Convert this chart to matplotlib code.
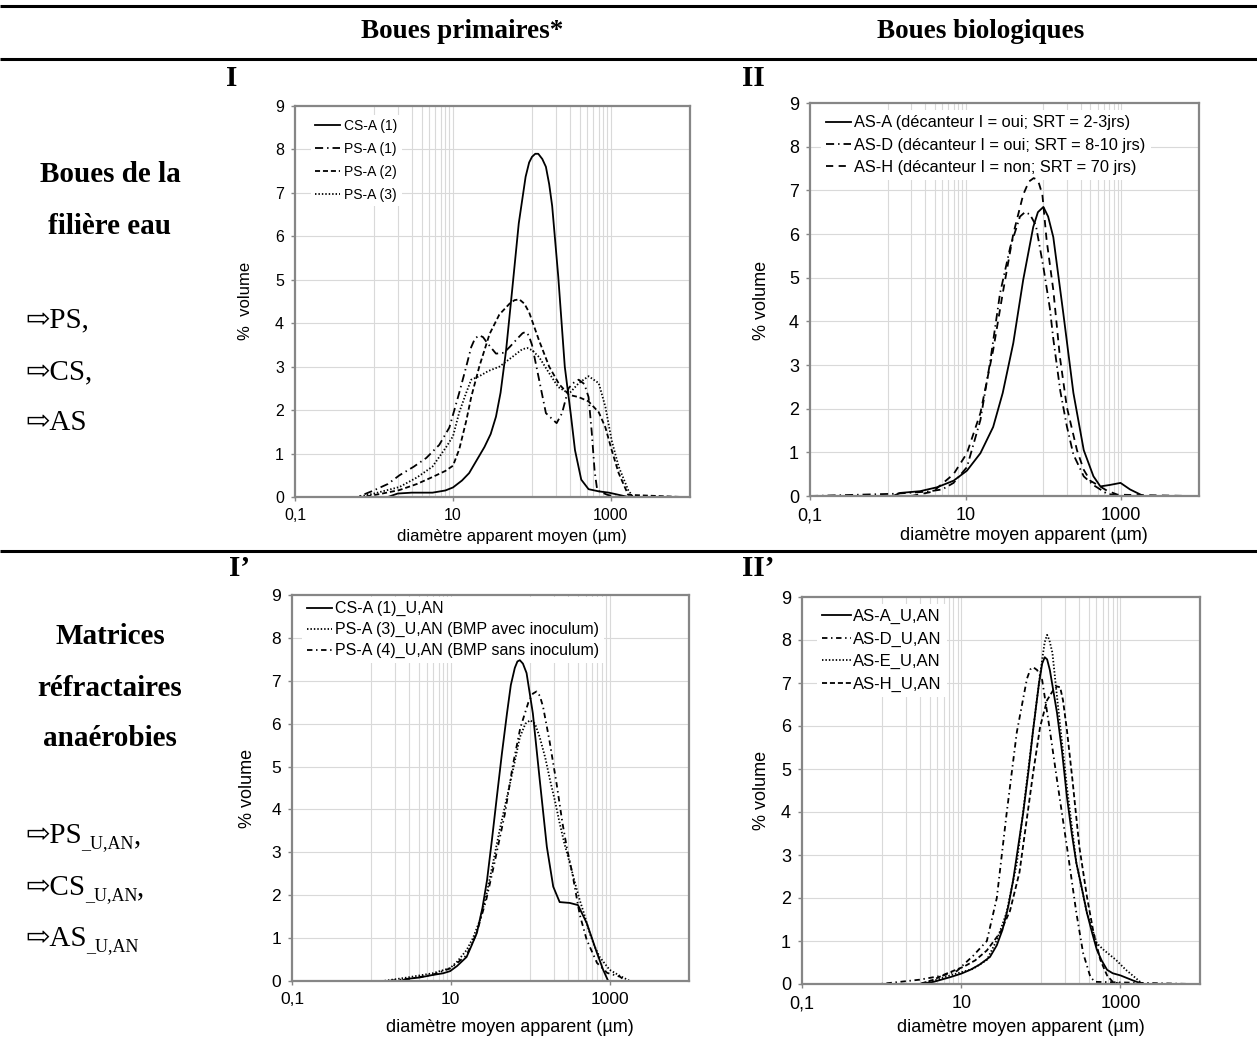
import numpy as np
import matplotlib.pyplot as plt
from matplotlib.ticker import FixedLocator, NullLocator

plt.rcdefaults()
plt.rcParams.update({
    "font.family": "sans-serif",
    "font.sans-serif": ["Liberation Sans"],
})

W, H = 1257, 1041
SERIF = ["Liberation Serif", "DejaVu Serif"]
GRID = "#d9d9d9"
FRAME = "#868686"

# ---------------- data (diameter in µm, % volume) ----------------
# I : boues primaires
d_csa1 = [0.1, 1.5, 2.0, 3.0, 5.5, 8.0, 10, 13, 16, 20, 25, 30, 35, 40, 47, 56, 68, 83, 92, 100,
          110, 120, 135, 150, 165, 180, 215, 260, 310, 350, 420, 520, 700, 940, 1250, 1650, 8000]
v_csa1 = [0, 0, 0.08, 0.1, 0.1, 0.15, 0.22, 0.38, 0.55, 0.85, 1.15, 1.45, 1.85, 2.4, 3.38, 4.75, 6.3, 7.37, 7.7, 7.83,
          7.9, 7.9, 7.78, 7.6, 7.2, 6.7, 5.07, 3.0, 1.9, 1.08, 0.4, 0.18, 0.13, 0.1, 0.05, 0, 0]
d_psa1 = [0.1, 0.62, 0.96, 1.5, 2.1, 3.2, 4.6, 6.7, 9, 12, 14.7, 17, 19, 21.5, 24, 27, 35, 44, 52, 68,
          76, 83, 91, 100, 123, 150, 205, 240, 290, 330, 390, 460, 520, 570, 620, 670, 900, 1200, 8000]
v_psa1 = [0, 0, 0.14, 0.3, 0.5, 0.7, 0.9, 1.2, 1.6, 2.4, 3.0, 3.45, 3.65, 3.72, 3.68, 3.55, 3.3, 3.32, 3.45, 3.68,
          3.77, 3.8, 3.72, 3.5, 2.7, 1.93, 1.7, 1.93, 2.5, 2.62, 2.7, 2.6, 2.3, 1.5, 0.6, 0.15, 0.05, 0, 0]
d_psa2 = [0.1, 0.72, 1.2, 2.1, 3.5, 5.5, 8, 10, 12, 14.7, 17, 21.5, 29, 38.6, 52, 60, 69, 80, 92, 123,
          165, 220, 295, 390, 520, 700, 850, 1020, 1250, 1650, 8000]
v_psa2 = [0, 0, 0.07, 0.16, 0.3, 0.46, 0.6, 0.72, 1.1, 1.75, 2.3, 3.0, 3.75, 4.2, 4.45, 4.53, 4.55, 4.45, 4.25, 3.6,
          3.0, 2.6, 2.35, 2.3, 2.2, 1.95, 1.6, 1.08, 0.55, 0.05, 0]
d_psa3 = [0.1, 0.62, 1.0, 2.1, 3.5, 5.5, 8.2, 10, 12, 14.7, 17, 21.5, 28, 38.6, 56, 75, 87, 100, 123, 165,
          215, 295, 390, 520, 700, 850, 1020, 1250, 1650, 1900, 8000]
v_psa3 = [0, 0, 0.08, 0.23, 0.45, 0.7, 1.15, 1.4, 1.95, 2.4, 2.7, 2.78, 2.9, 3.0, 3.22, 3.4, 3.43, 3.38, 3.22, 2.85,
          2.53, 2.38, 2.62, 2.78, 2.62, 2.07, 1.3, 0.7, 0.16, 0, 0]

# II : boues biologiques
d_asa = [0.1, 1.17, 1.44, 2.6, 4.3, 7, 10.4, 15.5, 22.6, 30, 41, 55, 74, 85, 100, 115, 134, 180, 243, 330,
         440, 540, 700, 980, 1300, 1930, 8000]
v_asa = [0, 0, 0.07, 0.11, 0.2, 0.35, 0.58, 0.98, 1.58, 2.36, 3.5, 4.95, 6.16, 6.5, 6.62, 6.4, 5.93, 4.19, 2.36, 1.05,
         0.45, 0.22, 0.25, 0.3, 0.15, 0, 0]
d_asd = [0.1, 1.17, 3.2, 5, 7, 10.4, 15.5, 20.8, 27.7, 37.5, 50, 58, 67, 80, 100, 121, 134, 165, 200, 243,
         330, 440, 660, 1000, 8000]
v_asd = [0, 0.05, 0.1, 0.15, 0.3, 0.66, 1.74, 3.1, 4.64, 5.7, 6.4, 6.5, 6.45, 6.2, 5.24, 4.3, 3.6, 2.4, 1.6, 0.95,
         0.45, 0.25, 0.05, 0, 0]
d_ash = [0.1, 2.0, 3.8, 7, 10.4, 15.5, 22.6, 30, 41, 55, 65, 75, 82, 88, 97, 110, 134, 163, 200, 270,
         330, 400, 500, 660, 900, 8000]
v_ash = [0, 0, 0.1, 0.5, 0.98, 1.9, 3.34, 4.64, 6.0, 6.9, 7.2, 7.28, 7.25, 7.15, 6.9, 5.86, 4.72, 3.18, 2.04, 1.05,
         0.6, 0.35, 0.25, 0.12, 0.03, 0]

# I' : matrices refractaires anaerobies (primaires)
d_csa1u = [0.1, 2.3, 2.8, 4, 5.9, 8, 9.8, 12, 15.8, 18, 21.3, 25, 28.6, 33, 38, 44, 51, 57, 64, 69,
           74, 81, 90, 108, 132, 162, 195, 235, 315, 400, 515, 695, 830, 960, 8000]
v_csa1u = [0, 0, 0.05, 0.08, 0.14, 0.18, 0.23, 0.35, 0.56, 0.8, 1.12, 1.7, 2.35, 3.3, 4.29, 5.3, 6.24, 6.9, 7.3, 7.45,
           7.48, 7.4, 7.18, 6.24, 4.68, 3.13, 2.2, 1.84, 1.82, 1.77, 1.35, 0.65, 0.26, 0, 0]
d_psa3u = [0.1, 1.4, 2.8, 5.9, 9.8, 12, 15.8, 19, 23.3, 28, 34, 41, 51, 62, 74, 87, 100, 115, 132, 155,
           178, 205, 235, 270, 315, 365, 420, 490, 560, 650, 750, 1000, 1350, 1800, 8000]
v_psa3u = [0, 0, 0.08, 0.18, 0.3, 0.45, 0.72, 1.0, 1.42, 2.0, 2.75, 3.5, 4.29, 5.0, 5.68, 6.0, 6.08, 6.0, 5.68, 5.2,
           4.68, 4.2, 3.68, 3.2, 2.75, 2.3, 1.89, 1.5, 1.12, 0.8, 0.56, 0.26, 0.12, 0, 0]
d_psa4u = [0.1, 1.5, 3, 6, 10, 15.8, 21, 28, 35, 48, 60, 75, 95, 108, 120, 132, 145, 175, 215, 255,
           290, 340, 420, 515, 695, 930, 1350, 1600, 8000]
v_psa4u = [0, 0, 0.05, 0.15, 0.3, 0.6, 1.1, 1.9, 2.7, 3.9, 5.0, 5.9, 6.5, 6.7, 6.75, 6.65, 6.4, 5.6, 4.6, 3.68,
           3.1, 2.5, 1.55, 0.96, 0.42, 0.19, 0.1, 0, 0]

# II' : matrices refractaires anaerobies (biologiques)
d_asau = [0.1, 3, 4.5, 7.3, 10, 13, 17, 23, 28, 33, 39, 45, 52, 60, 70, 80, 95, 104, 112, 120,
          130, 160, 185, 213, 245, 280, 330, 380, 440, 505, 580, 680, 800, 1000, 1450, 1900, 8000]
v_asau = [0, 0, 0.05, 0.16, 0.24, 0.33, 0.45, 0.63, 0.9, 1.26, 1.8, 2.42, 3.2, 3.97, 4.95, 5.9, 7.0, 7.45, 7.6, 7.55,
          7.3, 6.3, 5.4, 4.35, 3.5, 2.81, 2.2, 1.65, 1.2, 0.8, 0.55, 0.33, 0.25, 0.2, 0.08, 0, 0]
d_asdu = [0.1, 0.95, 1.7, 3.0, 6, 8.8, 10.7, 14, 21, 28, 37, 50, 67, 74, 80, 90, 104, 130, 160, 213,
          280, 340, 420, 480, 8000]
v_asdu = [0, 0, 0.05, 0.1, 0.2, 0.3, 0.45, 0.65, 1.0, 2.0, 3.93, 5.86, 7.1, 7.32, 7.37, 7.3, 7.07, 5.9, 4.74, 3.19,
          1.65, 0.72, 0.16, 0.05, 0]
d_aseu = [0.1, 3, 5, 7.3, 14, 21, 28, 37, 50, 67, 90, 105, 112, 120, 128, 140, 160, 213, 280, 380,
          505, 610, 880, 1170, 1600, 1900, 8000]
v_aseu = [0, 0, 0.1, 0.2, 0.35, 0.56, 1.02, 1.65, 2.81, 4.74, 6.67, 7.6, 7.95, 8.12, 8.0, 7.7, 6.67, 4.58, 2.81, 1.65,
          0.95, 0.8, 0.56, 0.33, 0.12, 0, 0]
d_ashu = [0.1, 3, 4.5, 6.3, 10.7, 15, 21, 31, 41, 54, 80, 98, 120, 145, 160, 175, 190, 213, 250, 305,
          380, 460, 560, 680, 800, 1000, 8000]
v_ashu = [0, 0, 0.1, 0.23, 0.4, 0.55, 0.78, 1.2, 1.7, 2.6, 4.9, 5.98, 6.6, 6.85, 6.92, 6.9, 6.6, 5.9, 4.74, 3.19,
          2.03, 1.19, 0.56, 0.2, 0.05, 0, 0]

x_ticks = [0.1, 10, 1000]
x_ticklabels = ["0,1", "10", "1000"]
y_ticks = list(range(10))

# line styles (dash lengths in units of line width)
LW = 1.3
ST_SOLID = "-"
ST_DASHDOT = (0, (4.5, 2.2, 0.8, 2.2))
ST_DASHDOT_S = (0, (3.0, 2.0, 0.8, 2.0))
ST_DASH = (0, (2.8, 1.6))
ST_DASH_L = (0, (4.0, 3.0))
ST_DOT = (0, (0.8, 1.1))

fig = plt.figure(figsize=(W / 100, H / 100), dpi=100)
bg = fig.add_axes([0, 0, 1, 1])
bg.set_xlim(0, W)
bg.set_ylim(H, 0)
bg.axis("off")


def panel(left, top, right, bottom, fs_tick):
    ax = fig.add_axes([left / W, 1 - bottom / H, (right - left) / W, (bottom - top) / H])
    ax.set_xscale("log")
    ax.set_xlim(0.1, 10000)
    ax.set_ylim(0, 9)
    ax.xaxis.set_major_locator(FixedLocator(x_ticks))
    ax.xaxis.set_minor_locator(NullLocator())
    ax.set_xticklabels(x_ticklabels)
    ax.set_yticks(y_ticks)
    for xv in [k * 10.0 ** e for e in (0, 2) for k in range(1, 11)]:
        ax.axvline(xv, color=GRID, lw=0.8, zorder=0)
    for yv in range(1, 9):
        ax.axhline(yv, color=GRID, lw=0.8, zorder=0)
    for s in ax.spines.values():
        s.set_color(FRAME)
        s.set_linewidth(1.6)
    ax.tick_params(which="major", length=3, width=1, color=FRAME, labelsize=fs_tick, pad=5)
    return ax


def legend(ax, fs, bx, by, hl, tp, ls):
    lg = ax.legend(loc="upper left", bbox_to_anchor=(bx, by), borderaxespad=0, borderpad=0.3,
                   fontsize=fs, handlelength=hl, handletextpad=tp, labelspacing=ls,
                   frameon=True, fancybox=False, framealpha=1, facecolor="white", edgecolor="none")
    # white box hides the grid, but the curves stay on top of it
    lg.set_zorder(1.5)


# ---------------- panel I ----------------
ax1 = panel(295, 106, 690, 497, 11.5)
ax1.plot(d_csa1, v_csa1, color="k", lw=LW, ls=ST_SOLID, label="CS-A (1)")
ax1.plot(d_psa1, v_psa1, color="k", lw=LW, ls=ST_DASHDOT, label="PS-A (1)")
ax1.plot(d_psa2, v_psa2, color="k", lw=LW, ls=ST_DASH, label="PS-A (2)")
ax1.plot(d_psa3, v_psa3, color="k", lw=LW, ls=ST_DOT, label="PS-A (3)")
legend(ax1, 10, 0.04, 0.978, 1.8, 0.3, 0.66)

# ---------------- panel II ----------------
ax2 = panel(810, 103, 1199, 496, 13)
ax2.plot(d_asa, v_asa, color="k", lw=LW, ls=ST_SOLID, label="AS-A (décanteur I = oui; SRT = 2-3jrs)")
ax2.plot(d_asd, v_asd, color="k", lw=LW, ls=ST_DASHDOT, label="AS-D (décanteur I = oui; SRT = 8-10 jrs)")
ax2.plot(d_ash, v_ash, color="k", lw=LW, ls=ST_DASH_L, label="AS-H (décanteur I = non; SRT = 70 jrs)")
legend(ax2, 11.8, 0.028, 0.981, 1.55, 0.2, 0.45)

# ---------------- panel I' ----------------
ax3 = panel(292, 595, 689, 981, 12.5)
ax3.plot(d_csa1u, v_csa1u, color="k", lw=LW, ls=ST_SOLID, label="CS-A (1)_U,AN")
ax3.plot(d_psa3u, v_psa3u, color="k", lw=LW, ls=ST_DOT, label="PS-A (3)_U,AN (BMP avec inoculum)")
ax3.plot(d_psa4u, v_psa4u, color="k", lw=LW, ls=ST_DASHDOT_S, label="PS-A (4)_U,AN (BMP sans inoculum)")
legend(ax3, 11.5, 0.025, 0.996, 1.6, 0.15, 0.36)

# ---------------- panel II' ----------------
ax4 = panel(802, 597, 1200, 984, 13)
ax4.plot(d_asau, v_asau, color="k", lw=LW, ls=ST_SOLID, label="AS-A_U,AN")
ax4.plot(d_asdu, v_asdu, color="k", lw=LW, ls=ST_DASHDOT_S, label="AS-D_U,AN")
ax4.plot(d_aseu, v_aseu, color="k", lw=LW, ls=ST_DOT, label="AS-E_U,AN")
ax4.plot(d_ashu, v_ashu, color="k", lw=LW, ls=ST_DASH, label="AS-H_U,AN")
legend(ax4, 12, 0.038, 0.982, 1.74, 0.12, 0.44)

# axis titles
bg.text(245, 301, "%  volume", rotation=90, ha="center", va="center", fontsize=12)
bg.text(762, 300, "% volume", rotation=90, ha="center", va="center", fontsize=13)
bg.text(247, 788, "% volume", rotation=90, ha="center", va="center", fontsize=13)
bg.text(762, 790, "% volume", rotation=90, ha="center", va="center", fontsize=13)
bg.text(512, 537, "diamètre apparent moyen (µm)", ha="center", va="center", fontsize=12)
bg.text(1024, 535, "diamètre moyen apparent (µm)", ha="center", va="center", fontsize=13)
bg.text(510, 1028, "diamètre moyen apparent (µm)", ha="center", va="center", fontsize=13)
bg.text(1021, 1027, "diamètre moyen apparent (µm)", ha="center", va="center", fontsize=13)

# table rules and headers
for yl in (6, 59, 551):
    bg.plot([0, W], [yl, yl], color="k", lw=2.2, solid_capstyle="butt")
bg.text(462, 32, "Boues primaires*", ha="center", va="center", fontsize=19.5, fontweight="bold", family=SERIF)
bg.text(981, 32, "Boues biologiques", ha="center", va="center", fontsize=19.5, fontweight="bold", family=SERIF)

for txt, x, y in [("I", 232, 78), ("II", 753, 78), ("I\u2019", 240, 568), ("II\u2019", 758, 568)]:
    bg.text(x, y, txt, ha="center", va="center", fontsize=21, fontweight="bold", family=SERIF)

for txt, y in [("Boues de la", 175), ("filière eau", 226),
               ("Matrices", 637), ("réfractaires", 689), ("anaérobies", 739)]:
    bg.text(110, y, txt, ha="center", va="center", fontsize=21, fontweight="bold", family=SERIF)

for txt, y in [("\u21e8PS,", 320), ("\u21e8CS,", 372), ("\u21e8AS", 423)]:
    bg.text(25, y, txt, ha="left", va="center", fontsize=21, family=SERIF)

for main, tail, y in [("\u21e8PS", ",", 843), ("\u21e8CS", ",", 895), ("\u21e8AS", "", 946)]:
    t = bg.text(25, y, main, ha="left", va="baseline", fontsize=21, family=SERIF)
    sub = bg.annotate("_U,AN", xy=(1, 0), xycoords=t, xytext=(0, -2), textcoords="offset points",
                      ha="left", va="bottom", fontsize=13, family=SERIF)
    if tail:
        bg.annotate(tail, xy=(1, 0), xycoords=sub, xytext=(0, 2), textcoords="offset points",
                    ha="left", va="bottom", fontsize=21, family=SERIF)

fig.savefig("out.png", dpi=100)
